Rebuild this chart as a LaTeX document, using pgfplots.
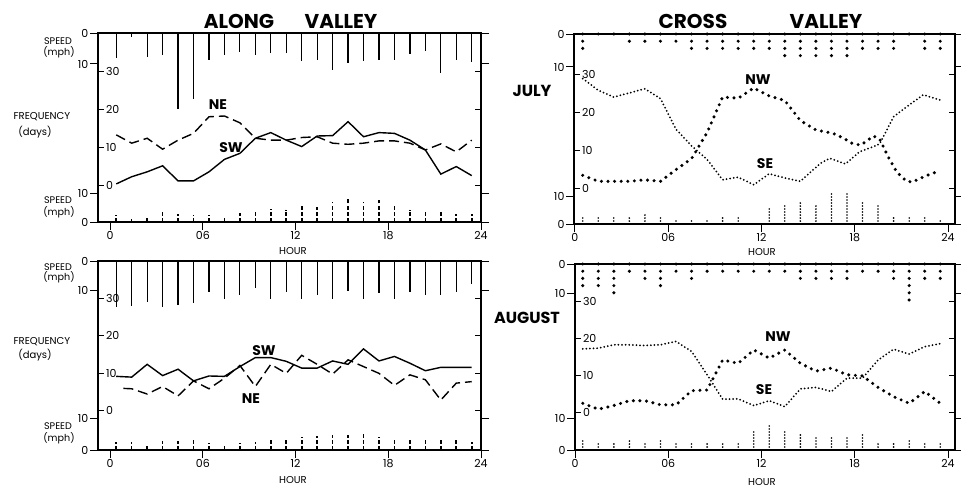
\documentclass[border=0pt]{standalone}
\usepackage{fontspec}
\setmainfont{Poppins}
\usepackage{pgfplots}
\pgfplotsset{compat=1.18}
\pgfplotsset{
  base/.style={scale only axis, anchor=north west, clip=false,
    axis line style={line width=0.6pt},
    tick style={line width=0.5pt, black},
    tick label style={font=\fontsize{5.5}{6}\selectfont},
    /pgf/number format/assume math mode=true},
  freqax/.style={base, xtick=\empty, ytick={0,10,20,30}, ytick pos=both,
    yticklabel pos=left, tick align=inside, major tick length=3pt,
    yticklabel style={anchor=west, xshift=0.5pt}},
  topsp/.style={base, y dir=reverse, ymin=0, ytick={0,10}, ytick pos=both,
    yticklabel pos=left, xtick=\empty, tick align=outside,
    major tick length=4pt, yticklabel style={inner sep=0.6pt}},
  botsp/.style={base, ymin=0, ytick={0,10}, ytick pos=both,
    yticklabel pos=left, xtick={0,6,12,18,24}, xticklabels={0,06,12,18,24},
    xtick pos=bottom, tick align=outside, major tick length=4pt,
    yticklabel style={inner sep=0.6pt}, xticklabel style={inner sep=0.6pt}},
  swline/.style={black, line width=0.7pt},
  neline/.style={black, line width=0.7pt, dash pattern=on 5pt off 2.5pt},
  stickS/.style={black, ycomb, line width=0.6pt},
  stickD/.style={black, ycomb, line width=0.8pt, dash pattern=on 2pt off 1.1pt},
  nwline/.style={black, line width=1.7pt, line cap=round, dash pattern=on 0pt off 3.3pt},
  seline/.style={black, line width=1pt, line cap=round, dash pattern=on 0pt off 1.8pt},
  stickNW/.style={black, ycomb, line width=1.7pt, line cap=round, dash pattern=on 0pt off 3.6pt},
  stickSE/.style={black, ycomb, line width=0.9pt, line cap=round, dash pattern=on 0pt off 1.5pt},
}
\begin{document}
\begin{tikzpicture}[x=0.5pt,y=-0.5pt]
\useasboundingbox (0,0) rectangle (961,489);

% ================= TOP LEFT (July, along valley)
\begin{axis}[freqax, at={(49pt,-16.5pt)}, width=191.5pt, height=94.5pt,
  xmin=-0.78, xmax=24, ymin=-9.8, ymax=40.3, axis line style={line width=0.6pt}]
\draw[line width=1pt] (rel axis cs:0,0) -- (rel axis cs:0,1);
\addplot[swline] coordinates {(0.4,0.3)(1.4,2.2)(2.4,3.5)(3.4,5.1)(4.4,1.1)(5.4,1.1)(6.4,3.5)(7.4,6.8)(8.4,8.4)(9.4,12.4)(10.4,13.9)(11.4,11.9)(12.4,10.2)(13.4,13.0)(14.4,13.1)(15.4,16.8)(16.4,12.8)(17.4,13.9)(18.4,13.7)(19.4,11.9)(20.4,9.3)(21.4,2.9)(22.4,4.9)(23.4,2.5)};
\addplot[neline] coordinates {(0.4,13.3)(1.4,11.1)(2.4,12.4)(3.4,9.5)(4.4,11.9)(5.4,13.7)(6.4,18.1)(7.4,18.3)(8.4,16.5)(9.4,12.4)(10.4,11.9)(11.4,11.9)(12.4,12.6)(13.4,12.8)(14.4,11.1)(15.4,10.8)(16.4,11.1)(17.4,11.7)(18.4,11.7)(19.4,11.1)(20.4,9.3)(21.4,10.9)(22.4,8.8)(23.4,11.9)};
\end{axis}
\begin{axis}[topsp, at={(49pt,-16.5pt)}, width=191.5pt, height=94.5pt,
  xmin=-0.78, xmax=24, ymax=61]
\addplot[stickS] coordinates {(0.4,8.0)(1.4,1.3)(2.4,7.8)(3.4,7.0)(4.4,24.6)(5.4,21.3)(6.4,8.7)(7.4,7.1)(8.4,6.2)(9.4,7.1)(10.4,6.6)(11.4,6.6)(12.4,9.0)(13.4,8.7)(14.4,11.9)(15.4,9.8)(16.4,9.0)(17.4,8.7)(18.4,8.7)(19.4,6.9)(20.4,5.7)(21.4,13.0)(22.4,8.7)(23.4,9.5)};
\end{axis}
\begin{axis}[botsp, at={(49pt,-16.5pt)}, width=191.5pt, height=94.5pt,
  xmin=-0.78, xmax=24, ymax=65.2]
\addplot[stickD] coordinates {(0.4,2.5)(1.4,1.2)(2.4,1.8)(3.4,3.5)(4.4,2.7)(5.4,2.4)(6.4,2.3)(7.4,1.5)(8.4,3.1)(9.4,3.4)(10.4,4.6)(11.4,4.3)(12.4,5.7)(13.4,5.2)(14.4,6.9)(15.4,8.0)(16.4,6.9)(17.4,7.5)(18.4,5.7)(19.4,4.3)(20.4,4.0)(21.4,3.4)(22.4,2.9)(23.4,2.9)};
\end{axis}

% ================= TOP RIGHT (July, cross valley)
\begin{axis}[freqax, at={(287pt,-17pt)}, width=190.5pt, height=95pt,
  xmin=-0.06, xmax=24.45, ymin=-9.5, ymax=40.8]
\addplot[nwline] coordinates {(0.5,3.4)(1.5,1.8)(2.5,1.8)(3.5,1.8)(4.5,2.2)(5.5,1.8)(6.5,4.9)(7.5,7.8)(8.5,14.7)(9.5,24.1)(10.5,23.8)(11.5,26.5)(12.5,24.4)(13.5,23.2)(14.5,17.9)(15.5,15.4)(16.6,14.5)(17.2,13.4)(17.9,11.7)(18.4,11.4)(19.2,13.8)(19.6,13.0)(20.2,7.9)(20.7,4.3)(21.3,1.9)(21.7,1.6)(22.6,3.3)(23.4,4.5)};
\addplot[seline] coordinates {(0.5,29.0)(1.5,25.9)(2.5,24.1)(3.5,25.2)(4.5,26.3)(5.5,23.7)(6.5,15.6)(7.5,11.2)(8.5,7.6)(9.5,2.2)(10.5,2.9)(11.5,0.9)(12.5,3.8)(13.5,2.7)(14.5,1.8)(15.8,6.6)(16.4,7.9)(17.4,6.4)(18.3,9.6)(19.2,11.0)(19.6,11.7)(20.5,18.9)(21.2,21.1)(22.4,24.7)(23.5,23.3)};
\end{axis}
\begin{axis}[topsp, at={(287pt,-17pt)}, width=190.5pt, height=95pt,
  xmin=-0.06, xmax=24.45, ymax=57.6]
\addplot[stickNW] coordinates {(0.5,4.4)(1.5,2.0)(2.5,2.0)(3.5,3.9)(4.5,2.6)(5.5,4.1)(6.5,3.2)(7.5,4.7)(8.5,4.7)(9.5,4.7)(10.5,5.1)(11.5,6.1)(12.5,6.1)(13.5,6.9)(14.5,6.9)(15.5,6.9)(16.5,6.9)(17.5,8.2)(18.5,6.0)(19.5,5.8)(20.5,4.9)(21.5,2.0)(22.5,5.0)(23.5,5.4)};
\end{axis}
\begin{axis}[botsp, at={(287pt,-17pt)}, width=190.5pt, height=95pt,
  xmin=-0.06, xmax=24.45, ymax=67.9]
\addplot[stickSE] coordinates {(0.5,3.2)(1.5,2.8)(2.5,3.2)(3.5,2.8)(4.5,3.4)(5.5,2.4)(6.5,2.0)(7.5,1.4)(8.5,1.9)(9.5,2.4)(10.5,2.2)(11.5,0)(12.5,5.9)(13.5,7.5)(14.5,7.9)(15.5,7.3)(16.5,10.8)(17.5,11.3)(18.5,8.0)(19.5,7.3)(20.5,2.8)(21.5,2.8)(22.5,2.8)(23.5,1.8)};
\end{axis}

% ================= BOTTOM LEFT (August, along valley)
\begin{axis}[freqax, at={(49pt,-130.5pt)}, width=191.5pt, height=94.5pt,
  xmin=-0.78, xmax=24, ymin=-10.4, ymax=39.9]
\draw[line width=1pt] (rel axis cs:0,0) -- (rel axis cs:0,1);
\addplot[swline] coordinates {(0.4,9.2)(1.4,9.0)(2.4,12.4)(3.4,9.4)(4.4,11.1)(5.4,8.0)(6.4,9.3)(7.4,9.2)(8.4,11.8)(9.4,14.2)(10.4,14.2)(11.4,13.2)(12.4,11.4)(13.4,11.4)(14.4,13.3)(15.4,12.4)(16.4,16.5)(17.4,13.3)(18.4,14.5)(19.4,12.7)(20.4,10.7)(21.4,11.6)(22.4,11.6)(23.4,11.6)};
\addplot[neline] coordinates {(0.86,6.0)(1.4,5.9)(2.4,4.5)(3.4,6.5)(4.4,4.0)(5.4,8.0)(6.4,5.9)(7.4,8.7)(8.4,12.1)(9.4,6.5)(10.4,12.4)(11.4,10.0)(12.4,14.8)(13.4,12.4)(14.4,9.8)(15.4,13.6)(16.4,11.8)(17.4,10.0)(18.4,6.8)(19.4,9.6)(20.4,8.3)(21.4,2.9)(22.4,7.4)(23.4,7.8)};
\end{axis}
\begin{axis}[topsp, at={(49pt,-130.5pt)}, width=191.5pt, height=94.5pt,
  xmin=-0.78, xmax=24, ymax=65]
\addplot[stickS] coordinates {(0.4,15.7)(1.4,15.5)(2.4,14.0)(3.4,15.7)(4.4,15.2)(5.4,14.6)(6.4,10.6)(7.4,12.9)(8.4,11.7)(9.4,9.4)(10.4,12.9)(11.4,10.6)(12.4,13.2)(13.4,11.7)(14.4,12.9)(15.4,10.3)(16.4,12.9)(17.4,11.1)(18.4,12.9)(19.4,10.6)(20.4,11.7)(21.4,11.7)(22.4,10.6)(23.4,8.0)};
\end{axis}
\begin{axis}[botsp, at={(49pt,-130.5pt)}, width=191.5pt, height=94.5pt,
  xmin=-0.78, xmax=24, ymax=59.7]
\addplot[stickD] coordinates {(0.4,2.6)(1.4,2.4)(2.4,1.9)(3.4,2.8)(4.4,2.8)(5.4,3.5)(6.4,2.1)(7.4,1.6)(8.4,2.1)(9.4,2.6)(10.4,3.7)(11.4,3.9)(12.4,4.0)(13.4,4.5)(14.4,4.7)(15.4,4.9)(16.4,5.8)(17.4,4.2)(18.4,3.7)(19.4,3.5)(20.4,3.7)(21.4,3.7)(22.4,3.5)(23.4,2.6)};
\end{axis}

% ================= BOTTOM RIGHT (August, cross valley)
\begin{axis}[freqax, at={(287.5pt,-132pt)}, width=190pt, height=93pt,
  xmin=0, xmax=24.45, ymin=-10.1, ymax=40.1]
\addplot[nwline] coordinates {(0.5,2.5)(1.5,0.9)(2.5,1.9)(3.5,3.2)(4.5,3.2)(5.5,2.1)(6.5,2.1)(7.5,5.9)(8.5,6.1)(9.5,14.2)(10.5,13.3)(11.5,16.9)(12.5,14.7)(13.5,16.9)(14.5,13.3)(15.5,11.2)(16.5,12.0)(17.5,10.2)(18.5,9.9)(19.5,6.8)(20.5,4.3)(21.5,2.5)(22.5,5.7)(23.5,2.5)};
\addplot[seline] coordinates {(0.5,17.2)(1.5,17.4)(2.5,18.3)(3.5,18.3)(4.5,18.1)(5.5,18.3)(6.5,19.2)(7.5,16.5)(8.5,10.2)(9.5,3.6)(10.5,3.7)(11.5,1.9)(12.5,3.2)(13.5,1.6)(14.5,6.4)(15.5,6.8)(16.5,5.7)(17.5,9.3)(18.5,9.3)(19.5,14.2)(20.5,17.1)(21.5,15.8)(22.5,17.8)(23.5,18.6)};
\end{axis}
\begin{axis}[topsp, at={(287.5pt,-132pt)}, width=190pt, height=93pt,
  xmin=0, xmax=24.45, ymax=63.5]
\addplot[stickNW] coordinates {(0.5,7.7)(1.5,7.4)(2.5,10.3)(3.5,4.8)(4.5,6.6)(5.5,8.6)(6.5,4.5)(7.5,5.4)(8.5,3.1)(9.5,3.4)(10.5,3.4)(11.5,4.6)(12.5,4.3)(13.5,4.5)(14.5,5.2)(15.5,6.6)(16.5,5.7)(17.5,5.1)(18.5,4.8)(19.5,4.8)(20.5,6.8)(21.5,12.3)(22.5,6.8)(23.5,6.8)};
\end{axis}
\begin{axis}[botsp, at={(287.5pt,-132pt)}, width=190pt, height=93pt,
  xmin=0, xmax=24.45, ymax=58.7]
\addplot[stickSE] coordinates {(0.5,3.2)(1.5,2.1)(2.5,2.4)(3.5,2.9)(4.5,2.6)(5.5,2.9)(6.5,2.4)(7.5,1.9)(8.5,1.9)(9.5,1.9)(10.5,2.6)(11.5,6.0)(12.5,7.7)(13.5,5.8)(14.5,5.6)(15.5,4.4)(16.5,4.4)(17.5,4.0)(18.5,5.3)(19.5,2.8)(20.5,2.6)(21.5,3.4)(22.5,2.4)(23.5,1.9)};
\end{axis}

% ================= texts
\begin{scope}[every node/.style={inner sep=0pt}]
\node[font=\fontsize{10}{11}\selectfont\bfseries] at (239,21) {ALONG};
\node[font=\fontsize{10}{11}\selectfont\bfseries] at (341,21) {VALLEY};
\node[font=\fontsize{10}{11}\selectfont\bfseries] at (693,21) {CROSS};
\node[font=\fontsize{10}{11}\selectfont\bfseries] at (826,21) {VALLEY};
\node[font=\fontsize{8}{9}\selectfont\bfseries] at (532,91) {JULY};
\node[font=\fontsize{8}{9}\selectfont\bfseries] at (527,318) {AUGUST};
\foreach \yy/\yd in {117/132, 342/355} {
  \node[font=\fontsize{5}{6}\selectfont] at (42,\yy) {FREQUENCY};
  \node[font=\fontsize{5}{6}\selectfont] at (35,\yd) {(days)};
}
\foreach \ys/\ym in {41/52, 200/212, 267/277, 426/438} {
  \node[font=\fontsize{4.8}{6}\selectfont] at (58,\ys) {SPEED};
  \node[font=\fontsize{4.8}{6}\selectfont] at (59,\ym) {(mph)};
}
\node[font=\fontsize{5}{6}\selectfont] at (293,251) {HOUR};
\node[font=\fontsize{5}{6}\selectfont] at (293,480) {HOUR};
\node[font=\fontsize{5}{6}\selectfont] at (762,252) {HOUR};
\node[font=\fontsize{5}{6}\selectfont] at (762,482) {HOUR};
\node[font=\fontsize{7}{8}\selectfont\bfseries] at (218,105) {NE};
\node[font=\fontsize{7}{8}\selectfont\bfseries] at (231,148) {SW};
\node[font=\fontsize{7}{8}\selectfont\bfseries] at (758,80) {NW};
\node[font=\fontsize{7}{8}\selectfont\bfseries] at (765,164) {SE};
\node[font=\fontsize{7}{8}\selectfont\bfseries] at (264,351) {SW};
\node[font=\fontsize{7}{8}\selectfont\bfseries] at (251,399) {NE};
\node[font=\fontsize{7}{8}\selectfont\bfseries] at (778,337) {NW};
\node[font=\fontsize{7}{8}\selectfont\bfseries] at (764,390) {SE};
\end{scope}
\end{tikzpicture}
\end{document}
